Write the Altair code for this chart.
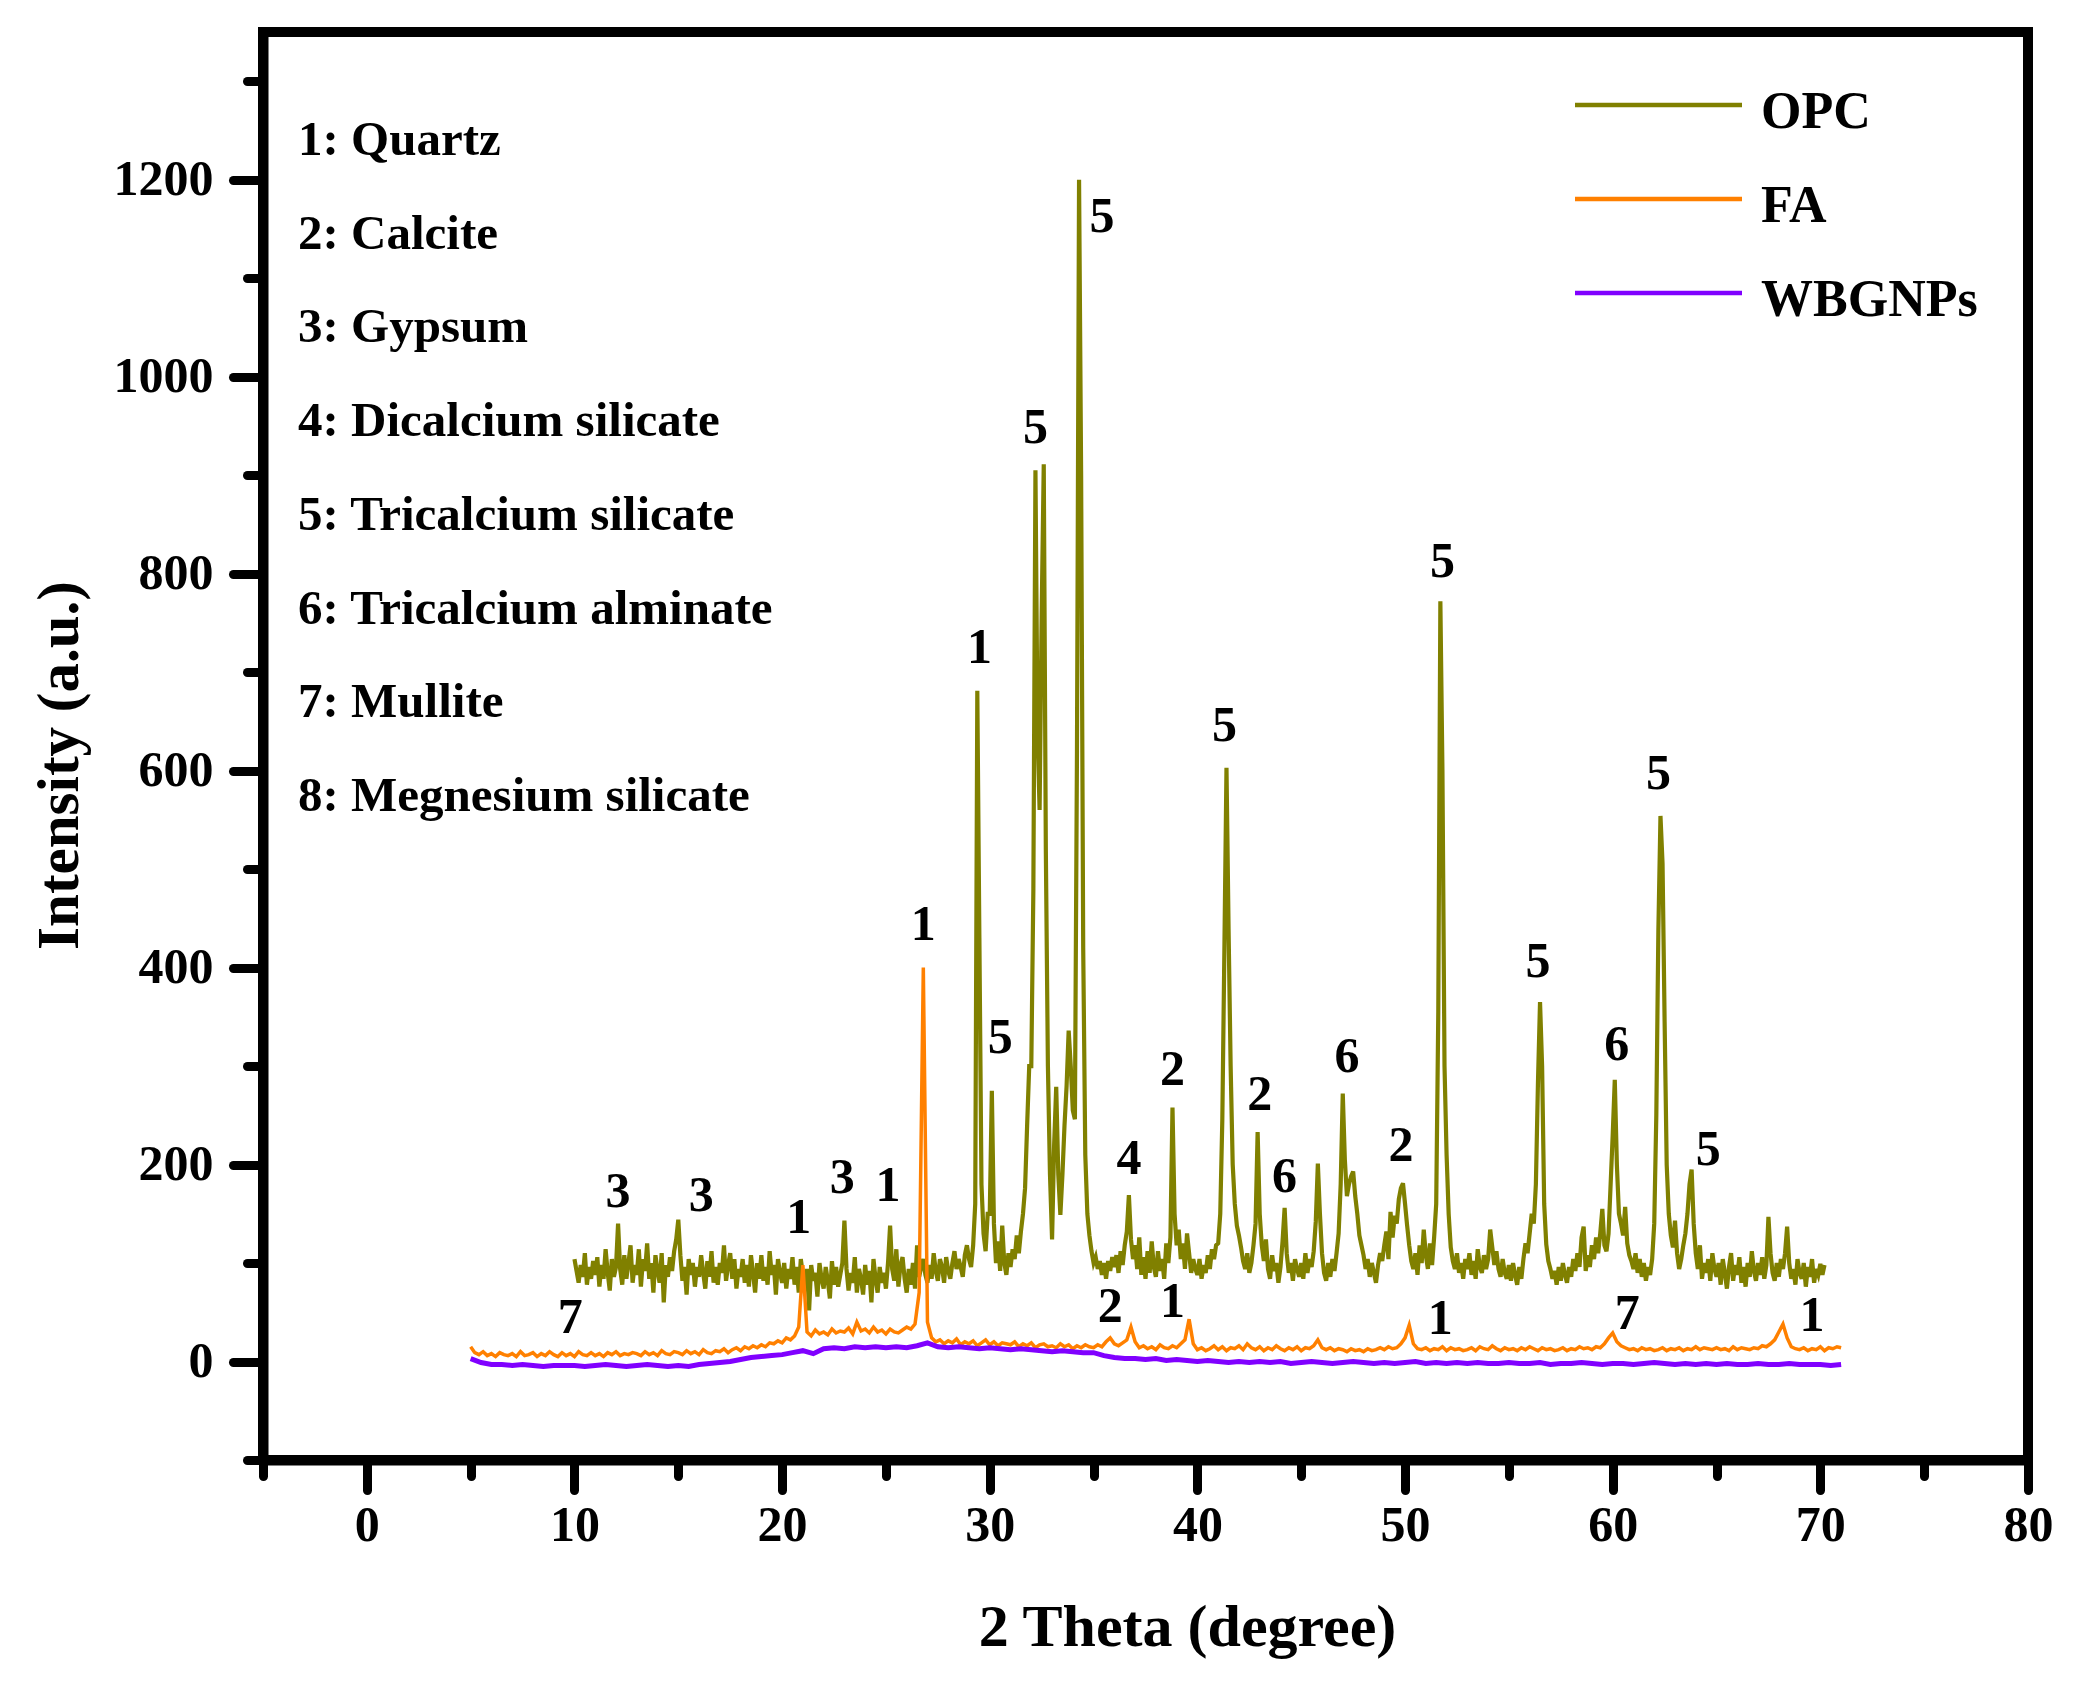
import altair as alt
import numpy as np
import pandas as pd

# ---------------------------------------------------------------------------
# XRD scans (intensity in a.u.), sampled on regular 2-theta grids
# ---------------------------------------------------------------------------
OPC_START, OPC_STEP = 10.0, 0.1
opc_counts = [
    104, 92, 80, 98, 86, 110, 78, 96, 84, 102,      # 10
    88, 106, 76, 98, 84, 114, 90, 72, 104, 86,      # 11
    96, 140, 94, 78, 108, 84, 100, 118, 80, 98,     # 12
    88, 114, 76, 104, 92, 120, 84, 100, 70, 108,    # 13
    92, 80, 110, 60, 98, 86, 106, 92, 112, 124,     # 14
    144, 108, 82, 96, 68, 104, 88, 100, 76, 96,     # 15
    86, 108, 90, 74, 102, 86, 112, 80, 96, 78,      # 16
    100, 90, 118, 82, 98, 110, 84, 104, 74, 94,     # 17
    86, 104, 80, 98, 76, 108, 90, 70, 100, 84,      # 18
    108, 82, 96, 78, 112, 88, 98, 68, 104, 90,      # 19
    80, 100, 74, 94, 84, 106, 78, 96, 70, 104,      # 20
    88, 76, 94, 52, 98, 82, 90, 66, 100, 84,        # 21
    74, 96, 82, 64, 102, 78, 96, 76, 88, 100,       # 22
    143, 94, 72, 90, 80, 106, 70, 94, 84, 68,       # 23
    98, 78, 92, 60, 104, 84, 70, 96, 80, 90,        # 24
    74, 100, 138, 94, 82, 114, 76, 98, 106, 84,     # 25
    70, 94, 78, 100, 74, 118, 86, 96, 104, 88,      # 26
    80, 98, 84, 110, 92, 82, 104, 96, 80, 106,      # 27
    92, 84, 100, 112, 94, 104, 96, 86, 108, 118,    # 28
    104, 96, 118, 160, 681, 430, 180, 130, 112, 150,  # 29
    150, 275, 140, 100, 122, 92, 138, 100, 88, 110,   # 30
    96, 114, 104, 128, 110, 132, 150, 176, 240, 300,  # 31
    300, 480, 905, 640, 560, 760, 911, 520, 300, 190,  # 32
    124, 220, 279, 190, 149, 190, 240, 280, 336, 300,  # 33
    255, 246, 620, 1200, 900, 420, 210, 150, 128, 112,  # 34
    100, 106, 94, 102, 88, 100, 84, 102, 92, 106,   # 35
    96, 108, 90, 112, 98, 118, 132, 169, 124, 104,  # 36
    118, 94, 126, 88, 106, 84, 112, 90, 122, 96,    # 37
    86, 112, 92, 104, 84, 120, 100, 126, 258, 150,  # 38
    118, 134, 104, 120, 94, 130, 110, 90, 104, 94,  # 39
    88, 104, 84, 98, 90, 108, 94, 114, 104, 118,    # 40
    120, 150, 246, 420, 603, 440, 300, 200, 160, 138,  # 41
    128, 116, 102, 94, 110, 90, 100, 118, 140, 233,  # 42
    150, 118, 102, 124, 94, 84, 108, 92, 100, 80,   # 43
    96, 122, 156, 110, 90, 100, 82, 104, 94, 86,    # 44
    100, 84, 110, 90, 104, 96, 112, 142, 201, 150,  # 45
    110, 90, 82, 100, 86, 104, 92, 110, 130, 180,   # 46
    272, 205, 168, 180, 188, 193, 168, 150, 128, 118,  # 47
    108, 94, 104, 86, 100, 90, 80, 98, 110, 102,    # 48
    118, 132, 104, 152, 126, 148, 140, 165, 176, 181,  # 49
    160, 138, 118, 102, 94, 110, 88, 118, 100, 134,  # 50
    108, 94, 120, 98, 126, 160, 354, 772, 600, 300,  # 51
    210, 150, 116, 102, 94, 110, 90, 100, 84, 104,  # 52
    94, 110, 88, 102, 84, 114, 96, 90, 108, 94,     # 53
    104, 134, 116, 98, 112, 94, 86, 104, 90, 84,    # 54
    98, 82, 100, 88, 78, 96, 84, 104, 120, 110,     # 55
    130, 150, 140, 180, 283, 365, 300, 160, 119, 102,  # 56
    94, 84, 92, 78, 96, 82, 100, 88, 80, 96,        # 57
    86, 104, 92, 110, 96, 126, 137, 92, 108, 96,    # 58
    118, 104, 126, 110, 130, 155, 118, 112, 130, 180,  # 59
    230, 286, 200, 150, 140, 128, 157, 120, 108, 102,  # 60
    94, 110, 90, 104, 86, 100, 82, 96, 88, 104,     # 61
    140, 250, 439, 554, 506, 345, 200, 150, 128, 116,  # 62
    143, 110, 94, 104, 118, 130, 150, 180, 195, 140,  # 63
    110, 94, 118, 84, 100, 90, 104, 82, 110, 94,    # 64
    86, 100, 78, 104, 90, 74, 96, 110, 82, 98,      # 65
    88, 106, 80, 96, 76, 100, 86, 112, 92, 82,      # 66
    100, 88, 106, 84, 98, 147, 110, 90, 82, 100,    # 67
    86, 104, 94, 110, 137, 100, 84, 94, 78, 104,    # 68
    90, 84, 100, 76, 96, 86, 104, 80, 94, 88,       # 69
    99, 88, 98,                                     # 70
]

FA_START, FA_STEP = 5.0, 0.2
fa_counts = [
    15, 9, 7, 10, 6, 8, 5, 9, 7, 6,          # 5
    8, 5, 10, 6, 7, 9, 5, 8, 6, 10,          # 7
    7, 5, 9, 6, 8, 5, 10, 7, 6, 9,           # 9
    6, 8, 5, 9, 7, 10, 6, 8, 7, 9,           # 11
    8, 6, 10, 7, 9, 6, 11, 8, 7, 10,         # 13
    9, 7, 11, 8, 10, 7, 12, 9, 8, 11,        # 15
    10, 13, 9, 12, 14, 11, 15, 13, 16, 14,   # 17
    17, 15, 19, 18, 21, 19, 24, 22, 26, 35,  # 19
    98, 30, 26, 32, 28, 30, 27, 33, 29, 31,  # 21
    30, 34, 28, 40, 31, 33, 29, 35, 30, 32,  # 23
    28, 33, 30, 29, 32, 35, 33, 38, 70, 400,  # 25
    40, 24, 20, 22, 18, 21, 19, 23, 17, 20,  # 27
    18, 21, 16, 19, 22, 17, 20, 16, 19, 18,  # 29
    17, 20, 15, 18, 16, 19, 14, 17, 18, 15,  # 31
    16, 14, 18, 15, 17, 13, 16, 14, 17, 15,  # 33
    14, 17, 15, 20, 24, 18, 16, 19, 22, 35,  # 35
    20, 14, 16, 13, 15, 12, 17, 14, 13, 16,  # 37
    14, 18, 22, 43, 18, 12, 14, 11, 13, 16,  # 39
    12, 15, 11, 14, 13, 16, 12, 18, 14, 12,  # 41
    15, 11, 14, 12, 16, 13, 11, 14, 12, 15,  # 43
    11, 14, 13, 16, 22, 14, 12, 14, 11, 13,  # 45
    12, 10, 13, 11, 12, 10, 13, 11, 12, 14,  # 47
    12, 15, 13, 14, 18, 24, 37, 18, 13, 12,  # 49
    14, 11, 13, 12, 15, 11, 14, 12, 13, 11,  # 51
    12, 14, 11, 15, 13, 12, 16, 13, 11, 14,  # 53
    12, 13, 11, 14, 12, 15, 13, 11, 14, 12,  # 55
    13, 11, 12, 14, 11, 13, 12, 15, 13, 14,  # 57
    12, 15, 14, 18, 24, 29, 20, 16, 14, 12,  # 59
    13, 11, 14, 12, 13, 11, 12, 14, 11, 13,  # 61
    12, 14, 11, 13, 12, 15, 12, 14, 13, 12,  # 63
    14, 12, 13, 11, 15, 12, 14, 13, 12, 14,  # 65
    13, 16, 15, 18, 22, 30, 38, 24, 15, 13,  # 67
    12, 14, 11, 13, 12, 15, 11, 14, 13, 15,  # 69
    14,                                      # 71
]

WB_START, WB_STEP = 5.0, 0.5
wbgnps_counts = [
    3, -1, -3, -3, -4, -3, -4, -5, -4, -4,       # 5
    -4, -5, -4, -3, -4, -5, -4, -3, -4, -5,      # 10
    -4, -5, -3, -2, -1, 0, 2, 4, 5, 6,           # 15
    7, 9, 11, 8, 13, 14, 13, 15, 14, 15,         # 20
    14, 15, 14, 16, 19, 15, 14, 15, 14, 13,      # 25
    14, 13, 12, 13, 12, 11, 10, 11, 10, 9,       # 30
    9, 6, 4, 3, 3, 2, 3, 1, 2, 1,                # 35
    0, 1, 0, -1, 0, -1, 0, -1, 0, -2,            # 40
    -1, 0, -1, -2, -1, 0, -1, -2, -1, -2,        # 45
    -1, 0, -2, -1, -2, -1, -2, -1, -2, -2,       # 50
    -1, -2, -2, -1, -3, -2, -2, -1, -2, -3,      # 55
    -2, -2, -3, -2, -1, -2, -3, -2, -3, -2,      # 60
    -3, -2, -3, -3, -2, -3, -3, -2, -3, -3,      # 65
    -3, -4, -3,                                  # 70
]

series_names = ["OPC", "FA", "WBGNPs"]
series_colors = ["#808000", "#ff8000", "#8000ff"]
series_widths = [4.2, 3.5, 5]

# Phase identification key
phase_names = [
    "1: Quartz",
    "2: Calcite",
    "3: Gypsum",
    "4: Dicalcium silicate",
    "5: Tricalcium silicate",
    "6: Tricalcium alminate",
    "7: Mullite",
    "8: Megnesium silicate",
]

# Peak annotations: 2-theta, intensity, phase number
peak_x = [12.1, 16.1, 20.8, 22.9, 25.1, 26.8, 29.5, 30.5, 32.2, 35.4,
          36.7, 38.8, 41.3, 43.0, 44.2, 47.2, 49.8, 51.8, 56.4, 60.2,
          62.2, 64.6, 9.8, 35.8, 38.8, 51.7, 60.7, 69.6]
peak_y = [172, 168, 146, 186, 178, 443, 725, 328, 948, 1162,
          206, 296, 645, 271, 187, 309, 219, 812, 406, 321,
          597, 215, 44, 55, 60, 43, 48, 46]
peak_ids = ["3", "3", "1", "3", "1", "1", "1", "5", "5", "5",
            "4", "2", "5", "2", "6", "6", "2", "5", "5", "6",
            "5", "5", "7", "2", "1", "1", "7", "1"]

# ---------------------------------------------------------------------------
SERIF = "Liberation Serif"
PLOT_W, PLOT_H = 1765, 1428


def scan_frame(name, start, step, counts):
    two_theta = np.round(start + step * np.arange(len(counts)), 2)
    return pd.DataFrame({
        "two_theta": two_theta,
        "intensity": counts,
        "sample": name,
        "idx": np.arange(len(counts)),
    })


scans = [
    scan_frame("OPC", OPC_START, OPC_STEP, opc_counts),
    scan_frame("FA", FA_START, FA_STEP, fa_counts),
    scan_frame("WBGNPs", WB_START, WB_STEP, wbgnps_counts),
]

x_scale = alt.Scale(domain=[-5, 80], nice=False, zero=False)
y_scale = alt.Scale(domain=[-100, 1350], nice=False, zero=False)

x_axis = alt.Axis(
    values=list(range(-5, 81, 5)),
    labelExpr="datum.value % 10 === 0 ? datum.label : ''",
    format="d",
    tickSize={"condition": {"test": "datum.value % 10 === 0", "value": 30}, "value": 16},
    tickWidth=9,
    tickColor="black",
    tickCap="round",
    domainColor="black",
    domainWidth=10,
    labelFont=SERIF,
    labelFontSize=50,
    labelFontWeight="bold",
    labelColor="black",
    labelPadding=10,
    labelFlush=False,
    labelOverlap=False,
    grid=False,
    title="2 Theta (degree)",
    titleFont=SERIF,
    titleFontSize=60,
    titleFontWeight="bold",
    titleColor="black",
    titleX=924,
    titleY=185,
    titleAlign="center",
    titleBaseline="alphabetic",
)

y_axis = alt.Axis(
    values=list(range(-100, 1301, 100)),
    labelExpr="datum.value % 200 === 0 ? datum.label : ''",
    format="d",
    tickSize={"condition": {"test": "datum.value % 200 === 0", "value": 30}, "value": 16},
    tickWidth=9,
    tickColor="black",
    tickCap="round",
    domainColor="black",
    domainWidth=10,
    labelFont=SERIF,
    labelFontSize=50,
    labelFontWeight="bold",
    labelColor="black",
    labelPadding=20,
    labelFlush=False,
    labelOverlap=False,
    grid=False,
    title="Intensity (a.u.)",
    titleFont=SERIF,
    titleFontSize=59,
    titleFontWeight="bold",
    titleColor="black",
    titleAngle=270,
    titleX=-186,
    titleY=733,
    titleAlign="center",
    titleBaseline="alphabetic",
)


def xy():
    return dict(
        x=alt.X("two_theta:Q", scale=x_scale, axis=x_axis),
        y=alt.Y("intensity:Q", scale=y_scale, axis=y_axis),
    )


layers = []

# diffraction patterns, drawn in legend order
for frame, color, width in zip(scans, series_colors, series_widths):
    layers.append(
        alt.Chart(frame)
        .mark_line(color=color, strokeWidth=width, strokeJoin="miter", clip=True)
        .encode(order="idx:Q", **xy())
    )

# phase numbers above the reflections
peaks = pd.DataFrame({"two_theta": peak_x, "intensity": peak_y, "phase": peak_ids})
layers.append(
    alt.Chart(peaks)
    .mark_text(font=SERIF, fontSize=50, fontWeight="bold", color="black",
               align="center", baseline="middle")
    .encode(text="phase:N", **xy())
)

# phase key in the upper-left corner
KEY_X, KEY_Y0, KEY_DY = 35, 123, 93.7
for i, name in enumerate(phase_names):
    layers.append(
        alt.Chart(pd.DataFrame({"t": [name]}))
        .mark_text(font=SERIF, fontSize=49, fontWeight="bold", color="black",
                   align="left", baseline="alphabetic")
        .encode(text="t:N", x=alt.value(KEY_X), y=alt.value(KEY_Y0 + i * KEY_DY))
    )

# sample legend in the upper-right corner
LEG_X1, LEG_X2, LEG_TX = 1312, 1479, 1498
LEG_Y0, LEG_DY = 73, 94
for i, (name, color) in enumerate(zip(series_names, series_colors)):
    row = pd.DataFrame({"t": [name]})
    layers.append(
        alt.Chart(row)
        .mark_rule(color=color, strokeWidth=4.5)
        .encode(x=alt.value(LEG_X1), x2=alt.value(LEG_X2), y=alt.value(LEG_Y0 + i * LEG_DY))
    )
    layers.append(
        alt.Chart(row)
        .mark_text(font=SERIF, fontSize=52, fontWeight="bold", color="black",
                   align="left", baseline="alphabetic")
        .encode(text="t:N", x=alt.value(LEG_TX), y=alt.value(LEG_Y0 + 23 + i * LEG_DY))
    )

chart = (
    alt.layer(*layers)
    .properties(
        width=PLOT_W,
        height=PLOT_H,
        background="white",
        padding={"left": 263, "top": 32, "right": 57, "bottom": 235},
        autosize=alt.AutoSizeParams(type="none"),
    )
    .configure_view(stroke="black", strokeWidth=10)
)

chart.save("out.html", embed_options={"renderer": "svg", "actions": False})
